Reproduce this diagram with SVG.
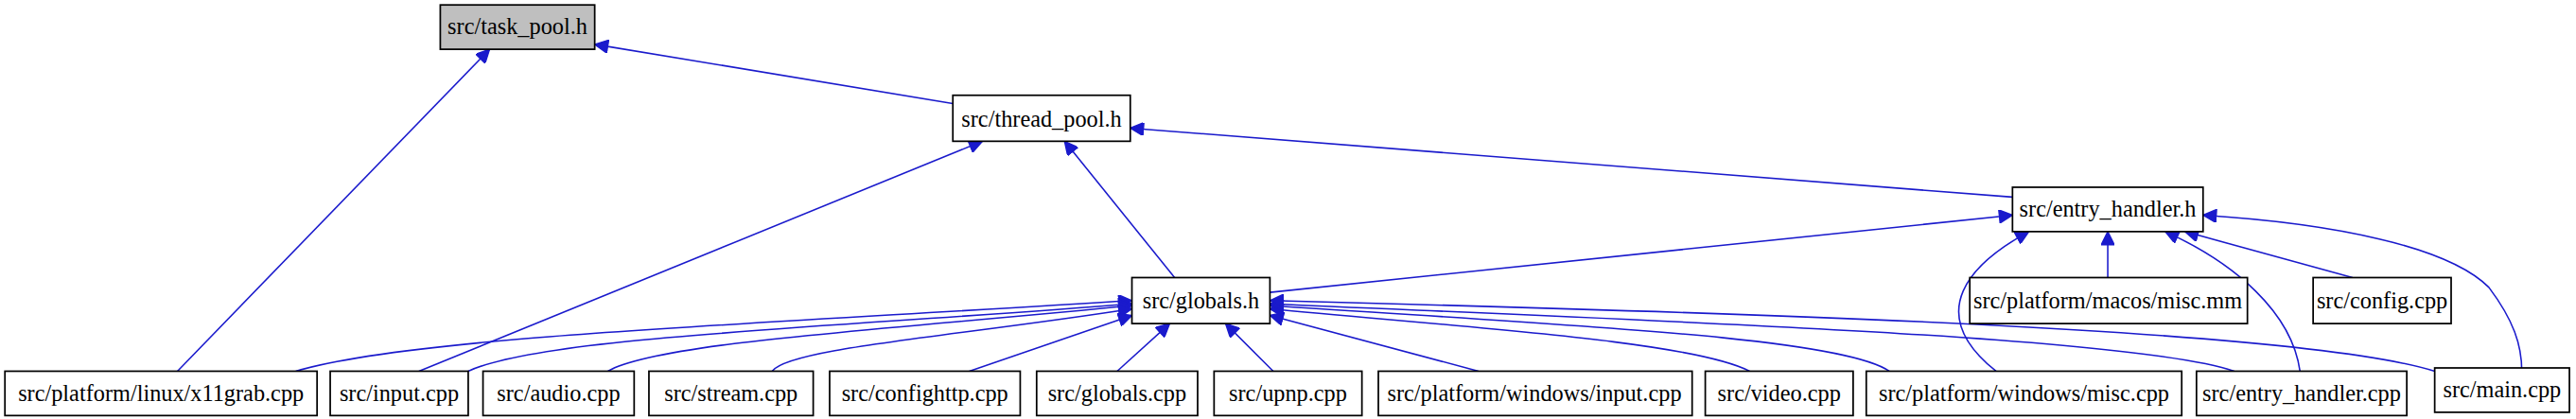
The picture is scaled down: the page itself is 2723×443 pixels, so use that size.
<svg xmlns="http://www.w3.org/2000/svg" width="2723" height="443" viewBox="0 0 2723 443">
<style>
.n rect{fill:#fff;stroke:#000;stroke-width:1}
.n text{font-family:"Liberation Serif",serif;font-size:14px;text-anchor:middle;fill:#000}
.e path{fill:none;stroke:#1a1acc;stroke-width:0.9}
</style>
<defs><marker id="a" viewBox="0 0 10 10" refX="10" refY="5" markerWidth="9" markerHeight="8" orient="auto-start-reverse" markerUnits="userSpaceOnUse"><path d="M0,0L10,5L0,10z" fill="#1a1acc" stroke="#1a1acc"/></marker></defs>
<rect width="2723" height="443" fill="#fff"/>
<g transform="scale(1.7366)">
<g class="e">
<path marker-start="url(#a)" d="M362,27L580,63"/>
<path marker-start="url(#a)" d="M298,30L108,226"/>
<path marker-start="url(#a)" d="M688,78L1225,120"/>
<path marker-start="url(#a)" d="M598,86L255,226"/>
<path marker-start="url(#a)" d="M648,86L715,169"/>
<path marker-start="url(#a)" d="M1225,131L773,178"/>
<path marker-start="url(#a)" d="M1283,141L1283,169"/>
<path marker-start="url(#a)" d="M1330,141L1432,169"/>
<path marker-start="url(#a)" d="M1318,141C1360,160 1395,190 1400,226"/>
<path marker-start="url(#a)" d="M1235,141C1200,160 1170,190 1215,226"/>
<path marker-start="url(#a)" d="M1341,131C1420,136 1490,150 1515,175C1530,195 1535,210 1535,226"/>
<path marker-start="url(#a)" d="M689,183C450,198 250,205 180,226"/>
<path marker-start="url(#a)" d="M689,185C500,200 330,205 285,226"/>
<path marker-start="url(#a)" d="M689,186C550,200 400,208 370,226"/>
<path marker-start="url(#a)" d="M689,188C580,205 480,212 470,226"/>
<path marker-start="url(#a)" d="M689,192L590,226"/>
<path marker-start="url(#a)" d="M712,197L680,226"/>
<path marker-start="url(#a)" d="M746,197L775,226"/>
<path marker-start="url(#a)" d="M773,192L900,226"/>
<path marker-start="url(#a)" d="M773,188C900,200 1030,208 1065,226"/>
<path marker-start="url(#a)" d="M773,186C950,198 1120,205 1150,226"/>
<path marker-start="url(#a)" d="M773,185C1000,195 1300,205 1360,226"/>
<path marker-start="url(#a)" d="M773,183C1050,190 1400,200 1482,226"/>
</g>
<g id="task_pool" class="n"><rect x="268" y="3" width="94" height="27" style="fill:#bfbfbf"/><text x="315" y="21">src/task_pool.h</text></g>
<g id="thread_pool" class="n"><rect x="580" y="58" width="108" height="28"/><text x="634" y="77">src/thread_pool.h</text></g>
<g id="entry_handler_h" class="n"><rect x="1225" y="114" width="116" height="27"/><text x="1283" y="132">src/entry_handler.h</text></g>
<g id="globals_h" class="n"><rect x="689" y="169" width="84" height="28"/><text x="731" y="188">src/globals.h</text></g>
<g id="macos_misc" class="n"><rect x="1199" y="169" width="169" height="28"/><text x="1283" y="188">src/platform/macos/misc.mm</text></g>
<g id="config" class="n"><rect x="1408" y="169" width="84" height="28"/><text x="1450" y="188">src/config.cpp</text></g>
<g id="x11grab" class="n"><rect x="3" y="226" width="190" height="27"/><text x="98" y="244">src/platform/linux/x11grab.cpp</text></g>
<g id="input" class="n"><rect x="201" y="226" width="84" height="27"/><text x="243" y="244">src/input.cpp</text></g>
<g id="audio" class="n"><rect x="294" y="226" width="92" height="27"/><text x="340" y="244">src/audio.cpp</text></g>
<g id="stream" class="n"><rect x="395" y="226" width="100" height="27"/><text x="445" y="244">src/stream.cpp</text></g>
<g id="confighttp" class="n"><rect x="505" y="226" width="116" height="27"/><text x="563" y="244">src/confighttp.cpp</text></g>
<g id="globals_cpp" class="n"><rect x="631" y="226" width="98" height="27"/><text x="680" y="244">src/globals.cpp</text></g>
<g id="upnp" class="n"><rect x="739" y="226" width="90" height="27"/><text x="784" y="244">src/upnp.cpp</text></g>
<g id="win_input" class="n"><rect x="839" y="226" width="191" height="27"/><text x="934" y="244">src/platform/windows/input.cpp</text></g>
<g id="video" class="n"><rect x="1038" y="226" width="90" height="27"/><text x="1083" y="244">src/video.cpp</text></g>
<g id="win_misc" class="n"><rect x="1136" y="226" width="192" height="27"/><text x="1232" y="244">src/platform/windows/misc.cpp</text></g>
<g id="entry_handler_cpp" class="n"><rect x="1337" y="226" width="128" height="27"/><text x="1401" y="244">src/entry_handler.cpp</text></g>
<g id="main" class="n"><rect x="1482" y="224" width="82" height="27"/><text x="1523" y="242">src/main.cpp</text></g>
</g>
</svg>
